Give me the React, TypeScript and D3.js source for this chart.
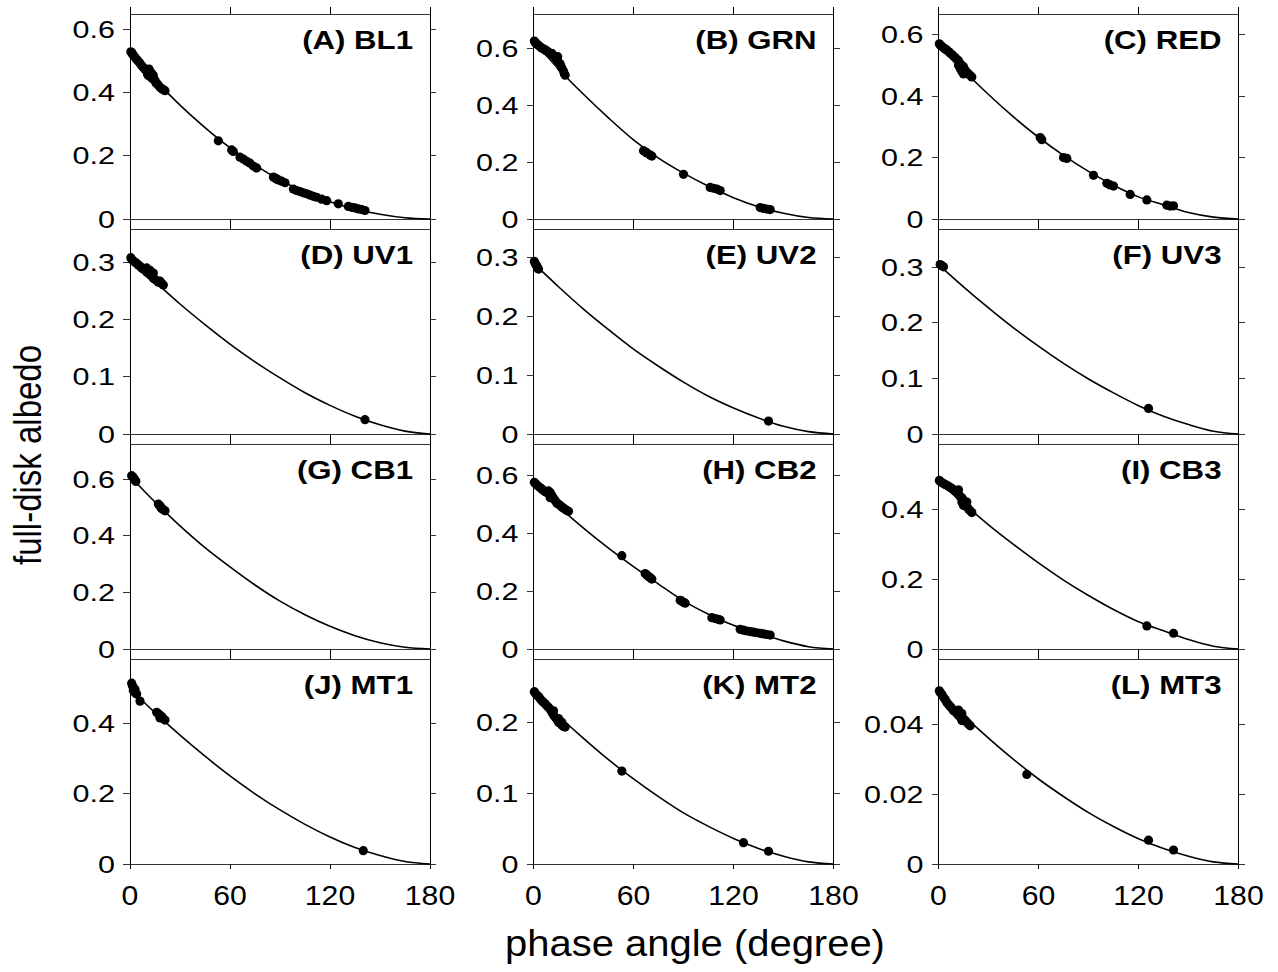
import React from 'react';
import * as d3 from 'd3';

// ---------- data ----------
const panelLetters = ['A', 'B', 'C', 'D', 'E', 'F', 'G', 'H', 'I', 'J', 'K', 'L'];
const bandNames = ['BL1', 'GRN', 'RED', 'UV1', 'UV2', 'UV3', 'CB1', 'CB2', 'CB3', 'MT1', 'MT2', 'MT3'];
const yMaxima = [0.65, 0.72, 0.667, 0.358, 0.348, 0.369, 0.724, 0.707, 0.586, 0.584, 0.289, 0.0586];
const yTickSets = [
  [0, 0.2, 0.4, 0.6], [0, 0.2, 0.4, 0.6], [0, 0.2, 0.4, 0.6],
  [0, 0.1, 0.2, 0.3], [0, 0.1, 0.2, 0.3], [0, 0.1, 0.2, 0.3],
  [0, 0.2, 0.4, 0.6], [0, 0.2, 0.4, 0.6], [0, 0.2, 0.4],
  [0, 0.2, 0.4], [0, 0.1, 0.2], [0, 0.02, 0.04],
];
const xTicks = [0, 60, 120, 180];

// fitted curves sampled at these phase angles
const fitPhase = [0, 15, 30, 45, 60, 75, 90, 105, 120, 135, 150, 165, 180];
const fitBL1 = [0.53, 0.441, 0.361, 0.29, 0.226, 0.171, 0.124, 0.085, 0.055, 0.032, 0.015, 0.004, 0];
const fitGRN = [0.625, 0.527, 0.438, 0.355, 0.278, 0.214, 0.161, 0.115, 0.075, 0.043, 0.02, 0.005, 0];
const fitRED = [0.57, 0.484, 0.405, 0.332, 0.266, 0.207, 0.155, 0.11, 0.072, 0.046, 0.021, 0.006, 0];
const fitUV1 = [0.307, 0.266, 0.227, 0.191, 0.157, 0.126, 0.098, 0.072, 0.05, 0.031, 0.016, 0.005, 0];
const fitUV2 = [0.29, 0.25, 0.212, 0.177, 0.144, 0.115, 0.088, 0.064, 0.044, 0.027, 0.013, 0.004, 0];
const fitUV3 = [0.305, 0.265, 0.227, 0.191, 0.158, 0.127, 0.099, 0.074, 0.051, 0.032, 0.017, 0.005, 0];
const fitCB1 = [0.61, 0.519, 0.435, 0.358, 0.29, 0.226, 0.169, 0.121, 0.08, 0.047, 0.022, 0.006, 0];
const fitCB2 = [0.57, 0.491, 0.417, 0.348, 0.284, 0.224, 0.166, 0.12, 0.082, 0.055, 0.028, 0.008, 0];
const fitCB3 = [0.48, 0.416, 0.355, 0.299, 0.246, 0.197, 0.153, 0.113, 0.078, 0.052, 0.027, 0.008, 0];
const fitMT1 = [0.5, 0.431, 0.367, 0.307, 0.251, 0.2, 0.154, 0.113, 0.077, 0.047, 0.024, 0.007, 0];
const fitMT2 = [0.243, 0.209, 0.177, 0.147, 0.12, 0.095, 0.072, 0.053, 0.036, 0.022, 0.011, 0.003, 0];
const fitMT3 = [0.0495, 0.0425, 0.036, 0.0299, 0.0243, 0.0193, 0.0147, 0.0107, 0.0072, 0.0044, 0.0022, 0.0006, 0];

// observations: [phase angle, albedo]
const obsBL1: [number, number][] = [
  [0.5, 0.53], [1, 0.528], [1.5, 0.522], [2, 0.52], [3, 0.513], [4, 0.506], [5, 0.5], [6, 0.494], [7, 0.486], [8, 0.48],
  [9, 0.474], [10, 0.47], [10.5, 0.46], [11, 0.455], [11.5, 0.475], [12, 0.468], [12.5, 0.45], [13, 0.462], [13.5, 0.445],
  [14, 0.455], [15, 0.44], [15.5, 0.432], [16, 0.43], [17, 0.425], [18, 0.418], [19, 0.413], [20, 0.41], [21, 0.407],
  [53, 0.248], [61, 0.219], [62, 0.214], [66, 0.196], [68, 0.19], [70, 0.183], [72, 0.177], [74, 0.168], [76, 0.162],
  [86, 0.133], [87, 0.13], [88, 0.127], [89, 0.124], [91, 0.12], [93, 0.115], [98, 0.095], [100, 0.09], [102, 0.087],
  [104, 0.083], [106, 0.08], [108, 0.076], [110, 0.072], [112, 0.069], [115, 0.063], [118, 0.058], [125, 0.048],
  [131, 0.04], [133, 0.037], [135, 0.035], [137, 0.032], [139, 0.03], [141, 0.027],
];
const obsGRN: [number, number][] = [
  [0.5, 0.625], [1, 0.62], [1.5, 0.617], [2, 0.614], [3, 0.61], [4, 0.605], [5, 0.6], [6, 0.598], [7, 0.594], [8, 0.59],
  [9, 0.586], [10, 0.58], [11, 0.582], [12, 0.575], [13, 0.568], [14, 0.56], [14.5, 0.57], [15, 0.55], [16, 0.545],
  [16.5, 0.535], [17, 0.53], [18, 0.52], [18.5, 0.51], [19, 0.505],
  [66, 0.24], [67, 0.236], [68, 0.232], [70, 0.225], [71, 0.221], [90, 0.157], [106, 0.111], [108, 0.108], [110, 0.105],
  [112, 0.1], [136, 0.04], [138, 0.037], [140, 0.035], [142, 0.033],
];
const obsRED: [number, number][] = [
  [0.5, 0.57], [1, 0.566], [2, 0.562], [3, 0.557], [4, 0.553], [5, 0.55], [6, 0.545], [7, 0.54], [8, 0.535], [9, 0.53],
  [10, 0.525], [11, 0.52], [12, 0.515], [12, 0.5], [13, 0.505], [13, 0.49], [14, 0.5], [14, 0.48], [15, 0.495], [15, 0.472],
  [16, 0.485], [17, 0.477], [18, 0.472], [19, 0.467], [20, 0.462],
  [61, 0.265], [62, 0.258], [75, 0.2], [77, 0.197], [93, 0.142], [101, 0.116], [103, 0.111], [105, 0.107], [115, 0.08],
  [125, 0.062], [137, 0.045], [139, 0.042], [141, 0.043],
];
const obsUV1: [number, number][] = [
  [0.5, 0.308], [1, 0.305], [2, 0.302], [3, 0.3], [4, 0.298], [5, 0.295], [6, 0.293], [7, 0.29], [8, 0.288], [9, 0.286],
  [10, 0.29], [10, 0.283], [11, 0.281], [12, 0.286], [12, 0.278], [13, 0.276], [14, 0.281], [14, 0.272], [15, 0.27],
  [16, 0.268], [17, 0.265], [18, 0.267], [19, 0.263], [20, 0.26], [141, 0.025],
];
const obsUV2: [number, number][] = [
  [0.5, 0.293], [1, 0.29], [1.5, 0.287], [2, 0.285], [2.5, 0.282], [3, 0.28], [141, 0.022],
];
const obsUV3: [number, number][] = [[1, 0.305], [2, 0.303], [3, 0.301], [126, 0.046]];
const obsCB1: [number, number][] = [
  [1, 0.612], [2, 0.606], [2.5, 0.6], [3, 0.597], [3.5, 0.592], [17, 0.512], [18, 0.506], [18.5, 0.5], [19, 0.496],
  [20, 0.492], [21, 0.488],
];
const obsCB2: [number, number][] = [
  [0.5, 0.575], [1, 0.571], [2, 0.566], [3, 0.561], [4, 0.556], [5, 0.552], [6, 0.547], [7, 0.542], [8, 0.54], [9, 0.545],
  [10, 0.54], [10, 0.522], [11, 0.53], [12, 0.52], [13, 0.512], [14, 0.503], [15, 0.5], [16, 0.495], [17, 0.49], [18, 0.486],
  [19, 0.482], [20, 0.478], [21, 0.475],
  [53, 0.322], [67, 0.26], [68, 0.255], [69, 0.25], [70, 0.246], [71, 0.241], [88, 0.168], [89, 0.165], [90, 0.161],
  [91, 0.158], [107, 0.108], [109, 0.105], [111, 0.102], [112, 0.1], [124, 0.068], [126, 0.065], [128, 0.062], [130, 0.06],
  [132, 0.058], [134, 0.056], [136, 0.054], [138, 0.052], [140, 0.05], [142, 0.048],
];
const obsCB3: [number, number][] = [
  [0.5, 0.482], [1, 0.479], [2, 0.476], [3, 0.473], [4, 0.47], [5, 0.468], [6, 0.465], [7, 0.462], [8, 0.459], [9, 0.455],
  [10, 0.451], [11, 0.448], [12, 0.455], [12, 0.442], [13, 0.436], [14, 0.42], [14, 0.432], [15, 0.426], [15, 0.41],
  [16, 0.416], [17, 0.42], [17, 0.408], [18, 0.4], [19, 0.395], [20, 0.39], [125, 0.066], [141, 0.045],
];
const obsMT1: [number, number][] = [
  [1, 0.515], [1.5, 0.508], [2, 0.502], [2, 0.494], [3, 0.498], [3, 0.488], [4, 0.484], [6, 0.464], [16, 0.432],
  [17, 0.428], [18, 0.424], [18, 0.416], [19, 0.42], [20, 0.414], [21, 0.41], [140, 0.038],
];
const obsMT2: [number, number][] = [
  [0.5, 0.243], [1, 0.241], [2, 0.238], [3, 0.236], [4, 0.233], [5, 0.23], [6, 0.228], [7, 0.226], [8, 0.223], [9, 0.221],
  [10, 0.218], [11, 0.214], [12, 0.216], [12, 0.21], [13, 0.207], [14, 0.204], [15, 0.205], [15, 0.2], [16, 0.198],
  [17, 0.2], [17, 0.196], [18, 0.194], [19, 0.193], [53, 0.131], [126, 0.03], [141, 0.018],
];
const obsMT3: [number, number][] = [
  [0.5, 0.0495], [1, 0.049], [2, 0.0485], [3, 0.0477], [4, 0.047], [5, 0.0462], [6, 0.0456], [7, 0.045], [8, 0.0445],
  [9, 0.0438], [10, 0.0436], [11, 0.043], [12, 0.044], [12, 0.0425], [13, 0.042], [14, 0.043], [14, 0.041], [15, 0.0415],
  [16, 0.041], [17, 0.0405], [18, 0.04], [19, 0.0395], [53, 0.0256], [126, 0.0068], [141, 0.004],
];

const fits = [fitBL1, fitGRN, fitRED, fitUV1, fitUV2, fitUV3, fitCB1, fitCB2, fitCB3, fitMT1, fitMT2, fitMT3];
const observations = [obsBL1, obsGRN, obsRED, obsUV1, obsUV2, obsUV3, obsCB1, obsCB2, obsCB3, obsMT1, obsMT2, obsMT3];

// ---------- layout ----------
const W = 1278;
const H = 972;
const colLeft = [130, 533.5, 938.5];
const plotW = 300;
const rowTop = [14, 229, 444, 659];
const plotH = 205;
const FONT = 'Liberation Sans, Arial, Helvetica, sans-serif';
const LINE = '#333';

const fmt = (v: number) => (v === 0 ? '0' : String(+v.toFixed(3)));

function Panel({ idx }: { idx: number }) {
  const col = idx % 3;
  const row = Math.floor(idx / 3);
  const x0 = colLeft[col];
  const x1 = x0 + plotW;
  const top = rowTop[row];
  const zeroY = top + plotH;
  const isBottom = row === 3;
  const x = d3.scaleLinear().domain([0, 180]).range([x0, x1]);
  const y = d3.scaleLinear().domain([0, yMaxima[idx]]).range([zeroY, top]);
  const pts = fitPhase.map((p, i) => [p, fits[idx][i]] as [number, number]);
  const line = d3
    .line<[number, number]>()
    .x((d) => x(d[0]))
    .y((d) => y(d[1]))
    .curve(d3.curveMonotoneX);
  const bottomTick = isBottom ? 5 : 10;
  return (
    <g>
      {/* frame */}
      <line x1={x0} x2={x1} y1={top} y2={top} stroke={LINE} strokeWidth={1} shapeRendering="crispEdges" />
      <line x1={x0} x2={x0} y1={top} y2={zeroY + bottomTick} stroke="#000" strokeWidth={1} shapeRendering="crispEdges" />
      <line x1={x1} x2={x1} y1={top} y2={zeroY + bottomTick} stroke="#000" strokeWidth={1} shapeRendering="crispEdges" />
      <line x1={x0 - 7} x2={x1 + 6} y1={zeroY} y2={zeroY} stroke={LINE} strokeWidth={1} shapeRendering="crispEdges" />
      {/* x ticks */}
      {xTicks.map((t) => (
        <g key={'xt' + t}>
          <line x1={x(t)} x2={x(t)} y1={zeroY} y2={zeroY + bottomTick} stroke="#000" strokeWidth={1} shapeRendering="crispEdges" />
          {row === 0 && (
            <line x1={x(t)} x2={x(t)} y1={top - 7} y2={top} stroke="#000" strokeWidth={1} shapeRendering="crispEdges" />
          )}
          {isBottom && (
            <text
              transform={`translate(${x(t)},905) scale(1.12,1)`}
              textAnchor="middle"
              fontFamily={FONT}
              fontSize={27}
              fill="#000"
            >
              {t}
            </text>
          )}
        </g>
      ))}
      {/* y ticks */}
      {yTickSets[idx].map((t) => (
        <g key={'yt' + t}>
          <line x1={x0 - 7} x2={x0} y1={y(t)} y2={y(t)} stroke={LINE} strokeWidth={1} shapeRendering="crispEdges" />
          <line x1={x1} x2={x1 + 6} y1={y(t)} y2={y(t)} stroke={LINE} strokeWidth={1} shapeRendering="crispEdges" />
          <text
            transform={`translate(${x0 - 15},${y(t) + 8.5}) scale(1.3,1)`}
            textAnchor="end"
            fontFamily={FONT}
            fontSize={23.5}
            fill="#000"
          >
            {fmt(t)}
          </text>
        </g>
      ))}
      {/* fitted curve */}
      <path d={line(pts) || ''} fill="none" stroke="#000" strokeWidth={1.6} />
      {/* observations */}
      {observations[idx].map((d, i) => (
        <circle key={i} cx={x(d[0])} cy={y(d[1])} r={4.6} fill="#000" />
      ))}
      {/* panel label */}
      <text
        transform={`translate(${x1 - 17},${top + 35}) scale(1.2,1)`}
        textAnchor="end"
        fontFamily={FONT}
        fontWeight="bold"
        fontSize={26}
        fill="#000"
      >
        {`(${panelLetters[idx]}) ${bandNames[idx]}`}
      </text>
    </g>
  );
}

export default function App() {
  return (
    <div style={{ position: 'absolute', left: 0, top: 0, width: W, height: H, background: '#fff' }}>
      <svg width={W} height={H} viewBox={`0 0 ${W} ${H}`} style={{ display: 'block' }}>
        <rect width={W} height={H} fill="#fff" />
        {bandNames.map((_, i) => (
          <Panel key={i} idx={i} />
        ))}
        <text
          transform="translate(41,455) scale(1.15,1) rotate(-90)"
          textAnchor="middle"
          fontFamily={FONT}
          fontSize={33}
          fill="#000"
        >
          full-disk albedo
        </text>
        <text
          transform="translate(695,956) scale(1.08,1)"
          textAnchor="middle"
          fontFamily={FONT}
          fontSize={37}
          fill="#000"
        >
          phase angle (degree)
        </text>
      </svg>
    </div>
  );
}
